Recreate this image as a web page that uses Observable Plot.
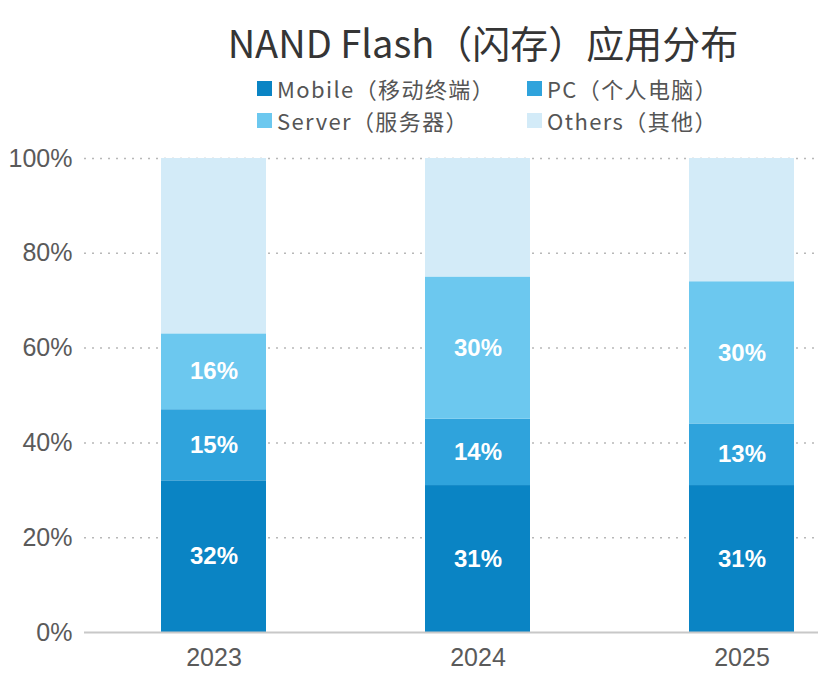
<!DOCTYPE html>
<html>
<head>
<meta charset="utf-8">
<script src="https://cdn.jsdelivr.net/npm/d3@7"></script>
<script src="https://cdn.jsdelivr.net/npm/@observablehq/plot@0.6"></script>
<style>
  html, body { margin: 0; padding: 0; background: #ffffff; }
  body { width: 818px; height: 682px; overflow: hidden; position: relative; font-family: "Noto Sans CJK SC", "Noto Sans", sans-serif; }
  #title { position: absolute; left: 0; width: 966px; text-align: center; top: 22px; line-height: 40px; font-size: 38px; font-weight: 400; color: #353535; white-space: nowrap; }
  .leg { position: absolute; height: 30px; display: flex; align-items: center; font-size: 22px; color: #555; white-space: nowrap; letter-spacing: 1.4px; }
  .sw { width: 15px; height: 15px; margin-right: 5px; flex: none; }
  #chart { position: absolute; left: 0; top: 140px; }
</style>
</head>
<body>
<div id="title">NAND Flash（闪存）应用分布</div>
<div id="legend"></div>
<div id="chart"></div>
<script>
const years = ["2023", "2024", "2025"];
const series = ["Mobile（移动终端）", "PC（个人电脑）", "Server（服务器）", "Others（其他）"];
const colors = ["#0a84c4", "#2fa3dc", "#6cc8ef", "#d3ebf8"];
const mobile = [32, 31, 31];
const pc = [15, 14, 13];
const server = [16, 30, 30];
const others = [37, 25, 26];
const yTicks = [0, 20, 40, 60, 80, 100];
const labeled = [true, true, true, false];

const valuesBySeries = [mobile, pc, server, others];
const table = [];
years.forEach((yr, i) => {
  series.forEach((s, j) => {
    table.push({ year: yr, series: s, value: valuesBySeries[j][i], show: labeled[j] });
  });
});

// legend (2 x 2 grid)
const legendPos = [
  { left: 257, top: 73 }, { left: 527, top: 73 },
  { left: 257, top: 105 }, { left: 527, top: 105 }
];
const legend = document.getElementById("legend");
series.forEach((s, j) => {
  const el = document.createElement("div");
  el.className = "leg";
  el.style.left = legendPos[j].left + "px";
  el.style.top = legendPos[j].top + "px";
  const sw = document.createElement("span");
  sw.className = "sw";
  sw.style.background = colors[j];
  el.appendChild(sw);
  el.appendChild(document.createTextNode(s));
  legend.appendChild(el);
});

const chart = Plot.plot({
  width: 818,
  height: 542,
  marginLeft: 84,
  marginRight: 0,
  marginTop: 18,
  marginBottom: 50,
  style: { background: "transparent", fontFamily: "'Liberation Sans', Arial, sans-serif" },
  x: { type: "band", domain: years, range: [1.5, 953], padding: 0.602, label: null, axis: null },
  y: { domain: [0, 100], label: null, axis: null },
  color: { domain: series, range: colors },
  marks: [
    Plot.ruleY(yTicks.filter(d => d > 0), { stroke: "#b8b8b8", strokeWidth: 1.5, strokeDasharray: "2,6" }),
    Plot.barY(table, { x: "year", y: "value", fill: "series", order: series, clip: true }),
    Plot.text(table, Plot.stackY({
      x: "year", y: "value", z: "series", order: series,
      text: d => d.show ? d.value + "%" : "",
      fill: "white", fontSize: 24, fontWeight: "bold"
    })),
    Plot.ruleY([0], { stroke: "#c8c8c8", strokeWidth: 2 }),
    Plot.axisY({ ticks: yTicks, tickFormat: d => d + "%", tickSize: 0, tickPadding: 12, fontSize: 25, color: "#5a5a5a", label: null }),
    Plot.axisX({ tickSize: 0, tickPadding: 16, fontSize: 25, color: "#5a5a5a", label: null })
  ]
});
document.getElementById("chart").appendChild(chart);
</script>
</body>
</html>
